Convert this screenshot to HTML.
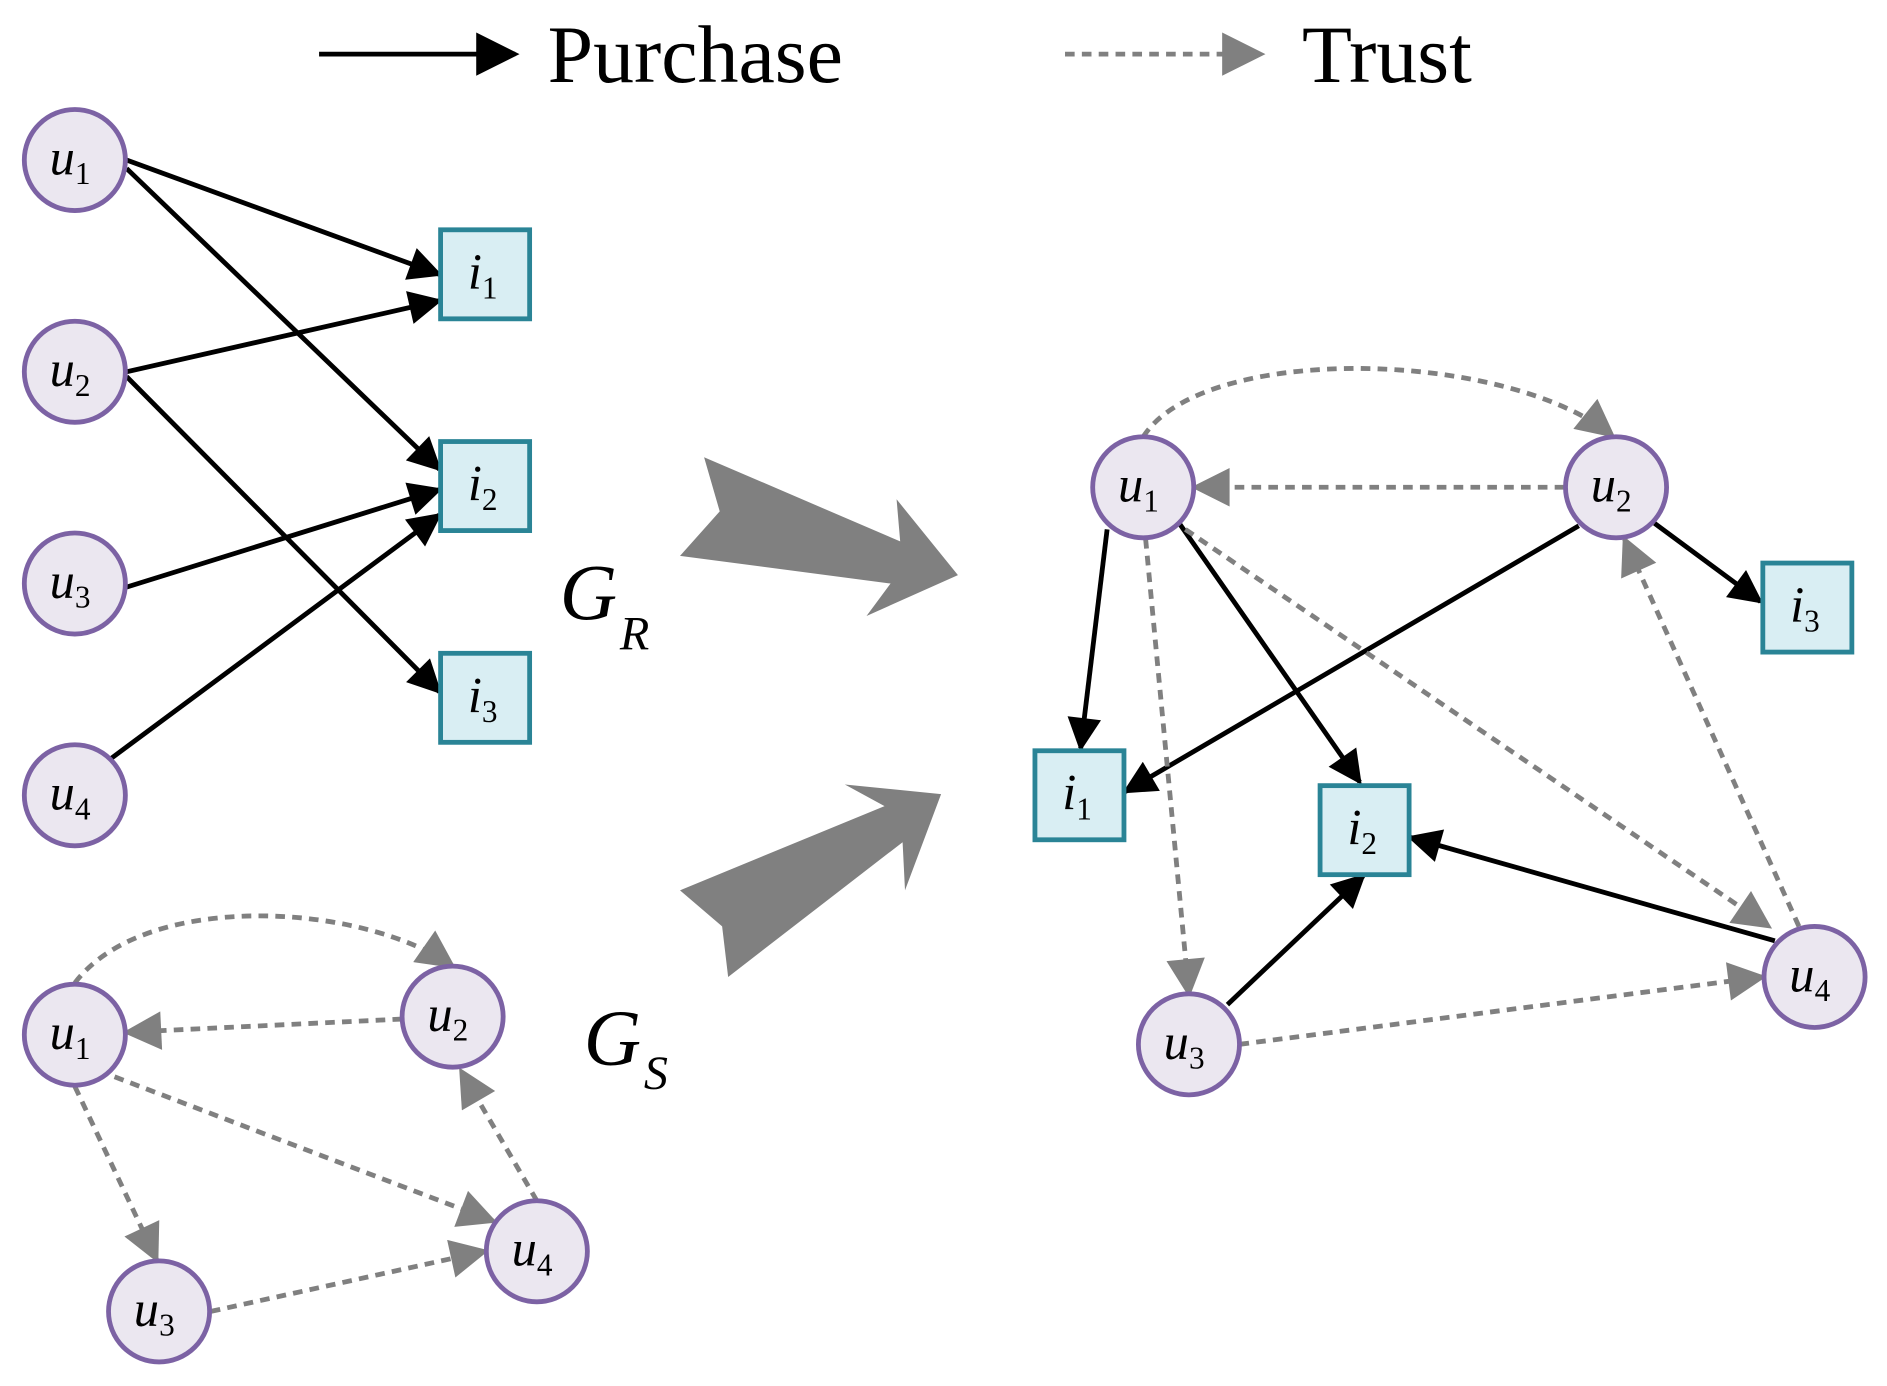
<!DOCTYPE html>
<html><head><style>html,body{margin:0;padding:0;background:#fff}svg{display:block}</style></head><body>
<svg width="1887" height="1386" viewBox="0 0 1568 1152" xmlns="http://www.w3.org/2000/svg" font-family="Liberation Serif, serif">
<defs>
<marker id="b" viewBox="0 0 10 10" refX="9" refY="5" markerWidth="9" markerHeight="7" orient="auto" markerUnits="strokeWidth"><path d="M0,0L10,5L0,10z" fill="#000"/></marker>
<marker id="g" viewBox="0 0 10 10" refX="9" refY="5" markerWidth="9" markerHeight="8" orient="auto" markerUnits="strokeWidth"><path d="M0,0L10,5L0,10z" fill="#808080"/></marker>
<marker id="bl" viewBox="0 0 10 10" refX="9" refY="5" markerWidth="11" markerHeight="9" orient="auto" markerUnits="strokeWidth"><path d="M0,0L10,5L0,10z" fill="#000"/></marker>
<marker id="gl" viewBox="0 0 10 10" refX="9" refY="5" markerWidth="12" markerHeight="9" orient="auto" markerUnits="strokeWidth"><path d="M0,0L10,5L0,10z" fill="#808080"/></marker>
</defs>
<line x1="265" y1="45" x2="428" y2="45" stroke="#000" stroke-width="4" marker-end="url(#bl)"/>
<text x="455" y="68" font-size="68">Purchase</text>
<line x1="885" y1="45" x2="1048" y2="45" stroke="#808080" stroke-width="4" stroke-dasharray="8,6" marker-end="url(#gl)"/>
<text x="1082" y="68" font-size="68">Trust</text>
<polygon points="565,462 740,485 720,512 796,478 745,415 748,450 585,380 598,425" fill="#808080"/>
<polygon points="565,740 600,770 605,812 750,700 752,740 782,660 702,652 735,670" fill="#808080"/>
<text x="465" y="515" font-size="66" font-style="italic">G</text><text x="515" y="540" font-size="40" font-style="italic">R</text>
<text x="485" y="885" font-size="66" font-style="italic">G</text><text x="535" y="905" font-size="40" font-style="italic">S</text>
<g stroke="#000" stroke-width="4" fill="none" marker-end="url(#b)">
<line x1="105" y1="133" x2="365" y2="228"/>
<line x1="105" y1="140" x2="365" y2="390"/>
<line x1="105" y1="309" x2="365" y2="250"/>
<line x1="105" y1="313" x2="365" y2="575"/>
<line x1="105" y1="488" x2="365" y2="407"/>
<line x1="90" y1="632" x2="365" y2="428"/>
<line x1="920" y1="440" x2="898" y2="622"/>
<line x1="1312" y1="437" x2="935" y2="658"/>
<line x1="980" y1="435" x2="1130" y2="650"/>
<line x1="1375" y1="435" x2="1463" y2="500"/>
<line x1="1475" y1="782" x2="1172" y2="696"/>
<line x1="1020" y1="835" x2="1133" y2="728"/>
</g>
<g stroke="#808080" stroke-width="4" fill="none" stroke-dasharray="8,6" marker-end="url(#g)">
<path d="M62,817 C120,740 300,750 376,803"/>
<line x1="334" y1="847" x2="105" y2="858"/>
<line x1="62" y1="903" x2="130" y2="1047"/>
<line x1="95" y1="895" x2="410" y2="1015"/>
<line x1="446" y1="998" x2="383" y2="890"/>
<line x1="175" y1="1090" x2="403" y2="1040"/>
<path d="M950,363 C1000,285 1250,290 1340,362"/>
<line x1="1300" y1="405" x2="993" y2="405"/>
<line x1="952" y1="448" x2="988" y2="826"/>
<line x1="985" y1="440" x2="1470" y2="770"/>
<line x1="1495" y1="770" x2="1350" y2="448"/>
<line x1="1030" y1="868" x2="1465" y2="812"/>
</g>
<g fill="#ebe7f0" stroke="#7c62a4" stroke-width="4">
<circle cx="62" cy="133" r="42"/><circle cx="62" cy="309" r="42"/><circle cx="62" cy="485" r="42"/><circle cx="62" cy="661" r="42"/>
<circle cx="62" cy="860" r="42"/><circle cx="376" cy="845" r="42"/><circle cx="132" cy="1090" r="42"/><circle cx="446" cy="1040" r="42"/>
<circle cx="950" cy="405" r="42"/><circle cx="1343" cy="405" r="42"/><circle cx="988" cy="868" r="42"/><circle cx="1508" cy="812" r="42"/>
</g>
<g fill="#d9eef3" stroke="#2a8496" stroke-width="4">
<rect x="366" y="191" width="74" height="74"/><rect x="366" y="367" width="74" height="74"/><rect x="366" y="543" width="74" height="74"/>
<rect x="860" y="624" width="74" height="74"/><rect x="1097" y="653" width="74" height="74"/><rect x="1465" y="468" width="74" height="74"/>
</g>
<g font-size="42" text-anchor="middle">
<text x="58" y="145"><tspan font-style="italic">u</tspan><tspan font-size="26" dy="8">1</tspan></text>
<text x="58" y="321"><tspan font-style="italic">u</tspan><tspan font-size="26" dy="8">2</tspan></text>
<text x="58" y="497"><tspan font-style="italic">u</tspan><tspan font-size="26" dy="8">3</tspan></text>
<text x="58" y="673"><tspan font-style="italic">u</tspan><tspan font-size="26" dy="8">4</tspan></text>
<text x="58" y="872"><tspan font-style="italic">u</tspan><tspan font-size="26" dy="8">1</tspan></text>
<text x="372" y="857"><tspan font-style="italic">u</tspan><tspan font-size="26" dy="8">2</tspan></text>
<text x="128" y="1102"><tspan font-style="italic">u</tspan><tspan font-size="26" dy="8">3</tspan></text>
<text x="442" y="1052"><tspan font-style="italic">u</tspan><tspan font-size="26" dy="8">4</tspan></text>
<text x="946" y="417"><tspan font-style="italic">u</tspan><tspan font-size="26" dy="8">1</tspan></text>
<text x="1339" y="417"><tspan font-style="italic">u</tspan><tspan font-size="26" dy="8">2</tspan></text>
<text x="984" y="880"><tspan font-style="italic">u</tspan><tspan font-size="26" dy="8">3</tspan></text>
<text x="1504" y="824"><tspan font-style="italic">u</tspan><tspan font-size="26" dy="8">4</tspan></text>
<text x="401" y="240"><tspan font-style="italic">i</tspan><tspan font-size="26" dy="8">1</tspan></text>
<text x="401" y="416"><tspan font-style="italic">i</tspan><tspan font-size="26" dy="8">2</tspan></text>
<text x="401" y="592"><tspan font-style="italic">i</tspan><tspan font-size="26" dy="8">3</tspan></text>
<text x="895" y="673"><tspan font-style="italic">i</tspan><tspan font-size="26" dy="8">1</tspan></text>
<text x="1132" y="702"><tspan font-style="italic">i</tspan><tspan font-size="26" dy="8">2</tspan></text>
<text x="1500" y="517"><tspan font-style="italic">i</tspan><tspan font-size="26" dy="8">3</tspan></text>
</g>
</svg>
</body></html>
